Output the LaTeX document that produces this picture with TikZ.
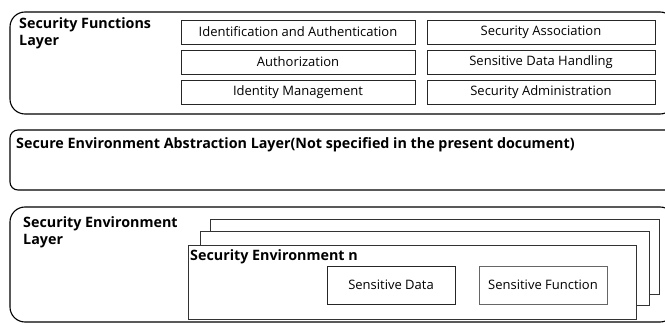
\documentclass[tikz,border=0pt]{standalone}
\usepackage{fontspec}
\setmainfont{Open Sans}
\begin{document}
\begin{tikzpicture}[x=1pt,y=-1pt,
  layer/.style={draw=black, line width=1.1pt, rounded corners=15pt},
  func/.style={draw=black!85, line width=0.8pt, inner sep=0pt, font=\fontsize{13}{15}\selectfont},
  envbox/.style={draw=black!80, line width=0.8pt, fill=white},
  title/.style={anchor=north west, align=left, inner sep=0pt, font=\bfseries\fontsize{14.3}{17}\selectfont}]
\clip (0,0) rectangle (665,323);
\fill[white] (0,0) rectangle (665,323);

% Security functions layer
\draw[layer] (10,12) rectangle (675,114);
\node[title] (sfl) at (19,17) {Security Functions\\Layer};
\node[func, minimum width=234pt, minimum height=24pt] (ia) at (298,32) {Identification and Authentication};
\node[func, minimum width=234pt, minimum height=24pt] (az) at (298,62) {Authorization};
\node[func, minimum width=234pt, minimum height=24pt] (im) at (298,92) {Identity Management};
\node[func, minimum width=228pt, minimum height=24pt] (sa) at (541,32) {Security Association};
\node[func, minimum width=228pt, minimum height=24pt] (sd) at (541,62) {Sensitive Data Handling};
\node[func, minimum width=228pt, minimum height=24pt] (sad) at (541,92) {Security Administration};

% Secure environment abstraction layer
\draw[layer, rounded corners=8pt] (10,130) rectangle (675,190);
\node[title] (seal) at (16,137) {Secure Environment Abstraction Layer(Not specified in the present document)};

% Security environment layer
\draw[layer] (10,207) rectangle (675,322);
\node[title] (sel) at (23,216) {Security Environment\\Layer};
\draw[envbox] (210,219) rectangle (659,294);
\draw[envbox] (200,231) rectangle (649,305);
\draw[envbox] (188,245) rectangle (636,319);
\node[title] (sen) at (190,249) {Security Environment n};
\node[func, minimum width=128pt, minimum height=38pt] (sdata) at (391,285) {Sensitive Data};
\node[func, draw=black!60, minimum width=128pt, minimum height=38pt] (sfun) at (543,285) {Sensitive Function};
\end{tikzpicture}
\end{document}
